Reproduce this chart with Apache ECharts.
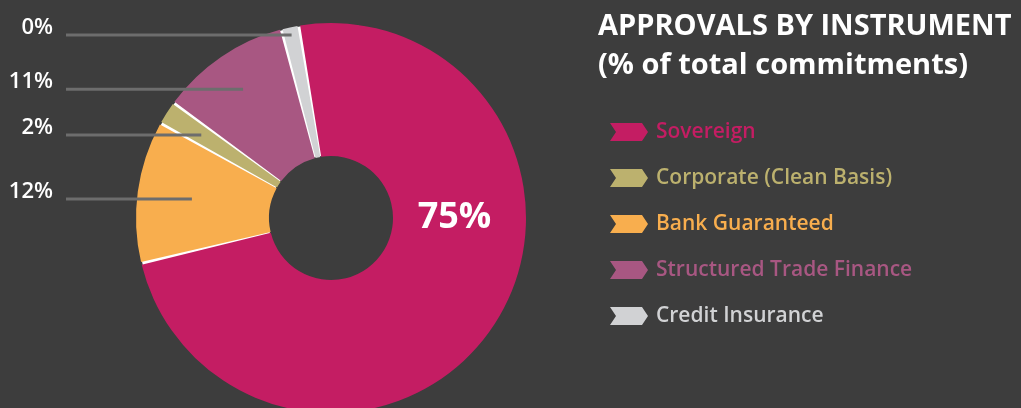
<!DOCTYPE html>
<html>
<head>
<meta charset="utf-8">
<title>Approvals by Instrument</title>
<script src="https://cdn.jsdelivr.net/npm/echarts@6/dist/echarts.min.js"></script>
<style>
  html, body { margin: 0; padding: 0; background: #3d3d3d; }
  #chart { width: 1021px; height: 408px; }
</style>
</head>
<body>
<div id="chart"></div>
<script>
// Instruments in drawing order (clockwise from the top)
const categories = ['Sovereign', 'Bank Guaranteed', 'Corporate (Clean Basis)', 'Structured Trade Finance', 'Credit Insurance'];
// Share of total commitments, %
const shares = [75, 12, 2, 11, 0];
// Order of the legend entries
const legendOrder = ['Sovereign', 'Corporate (Clean Basis)', 'Bank Guaranteed', 'Structured Trade Finance', 'Credit Insurance'];

const colors = ['#C41D63', '#F8AE4E', '#BCB16E', '#A85782', '#D1D2D4'];
// How far into each slice its leader line reaches (fraction of outer radius)
const leaderDepth = [0, 0.72, 0.79, 0.8, 0.96];

const FONT = '"Open Sans", "Noto Sans", sans-serif';
const CX = 331, CY = 218, R_IN = 62, R_OUT = 195;
const pct = p => p.value + '%';

const chart = echarts.init(document.getElementById('chart'), null, { renderer: 'canvas' });

// shared geometry of the donut
const donut = {
  type: 'pie',
  center: [CX, CY],
  radius: [R_IN, R_OUT],
  startAngle: 99.5,
  clockwise: true,
  minAngle: 4.5,
  padAngle: 0.8,
  avoidLabelOverlap: false
};

// coloured slices; only the big slice carries its value inside the ring
const sliceData = categories.map((name, i) => ({
  name,
  value: shares[i],
  itemStyle: { color: colors[i] },
  label: i === 0
    ? { show: true, position: 'inside', formatter: pct, fontSize: 36, fontWeight: 'bold', color: '#ffffff', fontFamily: FONT }
    : { show: false }
}));

// transparent copy on top that carries the left-hand labels and their leader lines
const calloutData = categories.map((name, i) => ({
  name,
  value: shares[i],
  label: { show: i !== 0 },
  labelLine: { show: i !== 0 }
}));

chart.setOption({
  backgroundColor: '#3d3d3d',
  animation: false,
  title: {
    text: 'APPROVALS BY INSTRUMENT\n(% of total commitments)',
    left: 598,
    top: 7,
    padding: 0,
    textStyle: { color: '#ffffff', fontSize: 29, fontWeight: 'bold', lineHeight: 39, fontFamily: FONT }
  },
  legend: {
    orient: 'vertical',
    left: 605,
    top: 116,
    itemWidth: 38,
    itemHeight: 18,
    itemGap: 24,
    selectedMode: false,
    icon: 'path://M0,0 L32,0 L38,9 L32,18 L0,18 L6,9 Z',
    data: legendOrder.map(name => {
      const c = colors[categories.indexOf(name)];
      return { name, itemStyle: { color: c }, textStyle: { color: c } };
    }),
    textStyle: { fontSize: 21, lineHeight: 22, fontWeight: 600, fontFamily: FONT, padding: [0, 0, 0, 3] }
  },
  series: [
    {
      // white ring that shows through the gaps between slices
      type: 'pie',
      silent: true,
      z: 1,
      center: [CX, CY],
      radius: [R_IN + 1, R_OUT - 1],
      label: { show: false },
      labelLine: { show: false },
      data: [{ name: 'ring', value: 1, itemStyle: { color: '#ffffff' } }]
    },
    Object.assign({}, donut, {
      z: 2,
      itemStyle: { borderWidth: 0 },
      labelLine: { show: false },
      labelLayout: function (params) {
        if (params.dataIndex !== 0) return {};
        return { x: CX + (R_IN + R_OUT) / 2 - 5, y: CY, align: 'center', verticalAlign: 'middle' };
      },
      data: sliceData
    }),
    Object.assign({}, donut, {
      z: 3,
      silent: true,
      itemStyle: { color: 'rgba(0,0,0,0)', borderWidth: 0 },
      label: {
        position: 'outside',
        formatter: pct,
        color: '#ffffff',
        fontSize: 22,
        fontWeight: 600,
        fontFamily: FONT
      },
      labelLine: {
        length: 10,
        length2: 10,
        lineStyle: { color: '#6d6d6d', width: 3, opacity: 1 }
      },
      labelLayout: function (params) {
        const i = params.dataIndex;
        const p = params.labelLinePoints && params.labelLinePoints[0];
        if (!p) return {};
        const dx = p[0] - CX, dy = p[1] - CY;
        const len = Math.hypot(dx, dy) || 1;
        const r = R_OUT * leaderDepth[i];
        const ex = CX + dx / len * r;
        const ey = CY + dy / len * r;
        return {
          x: 53,
          y: ey - 7,
          align: 'right',
          verticalAlign: 'middle',
          labelLinePoints: [[66, ey], [ex, ey], [ex, ey]]
        };
      },
      data: calloutData
    })
  ]
});
</script>
</body>
</html>
